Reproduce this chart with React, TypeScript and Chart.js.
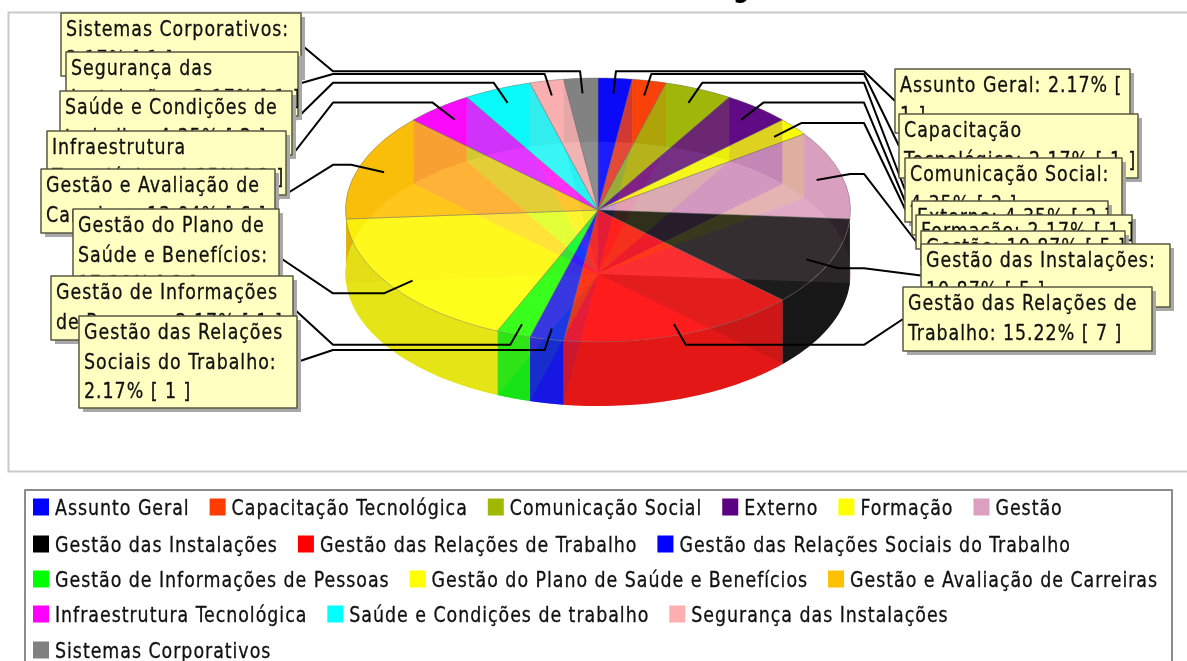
import React, { useEffect, useRef } from "react";
import { Chart, registerables } from "chart.js";

Chart.register(...registerables);

const categories = [
  "Assunto Geral", "Capacitação Tecnológica", "Comunicação Social", "Externo", "Formação", "Gestão",
  "Gestão das Instalações", "Gestão das Relações de Trabalho", "Gestão das Relações Sociais do Trabalho",
  "Gestão de Informações de Pessoas", "Gestão do Plano de Saúde e Benefícios", "Gestão e Avaliação de Carreiras",
  "Infraestrutura Tecnológica", "Saúde e Condições de trabalho", "Segurança das Instalações", "Sistemas Corporativos",
];
const counts = [1, 1, 2, 2, 1, 5, 5, 7, 1, 1, 8, 6, 2, 2, 1, 1];
const colors = ["#0000ff", "#ff3c00", "#a0b800", "#5c0084", "#ffff00", "#dd9fc0", "#000000", "#ff0000", "#0000ff", "#00ff00", "#ffff00", "#ffc000", "#ff00ff", "#00ffff", "#ffafaf", "#808080"];
const calloutLines = [
  ["Assunto Geral: 2.17% [", "1 ]"],
  ["Capacitação", "Tecnológica: 2.17% [ 1 ]"],
  ["Comunicação Social:", "4.35% [ 2 ]"],
  ["Externo: 4.35% [ 2 ]"],
  ["Formação: 2.17% [ 1 ]"],
  ["Gestão: 10.87% [ 5 ]"],
  ["Gestão das Instalações:", "10.87% [ 5 ]"],
  ["Gestão das Relações de", "Trabalho: 15.22% [ 7 ]"],
  ["Gestão das Relações", "Sociais do Trabalho:", "2.17% [ 1 ]"],
  ["Gestão de Informações", "de Pessoas: 2.17% [ 1 ]"],
  ["Gestão do Plano de", "Saúde e Benefícios:", "17.39% [ 8 ]"],
  ["Gestão e Avaliação de", "Carreiras: 13.04% [ 6 ]"],
  ["Infraestrutura", "Tecnológica: 4.35% [ 2 ]"],
  ["Saúde e Condições de", "trabalho: 4.35% [ 2 ]"],
  ["Segurança das", "Instalações: 2.17% [ 1 ]"],
  ["Sistemas Corporativos:", "2.17% [ 1 ]"],
];
// callout box: left, top, right, bottom
const calloutBoxes = [
  [895, 69, 1130, 133], [899, 114, 1138, 178], [905, 158, 1122, 222], [912, 201, 1108, 235],
  [916, 215, 1132, 249], [921, 231, 1125, 265], [921, 244, 1170, 307], [903, 287, 1152, 351],
  [79, 316, 297, 408], [51, 276, 293, 340], [73, 209, 279, 305], [41, 169, 275, 233],
  [47, 131, 286, 195], [60, 91, 292, 155], [66, 52, 298, 116], [61, 13, 301, 76],
];
// stacking of the callouts, bottom to top
const calloutOrder = [0, 1, 2, 3, 4, 5, 6, 7, 15, 14, 13, 12, 11, 10, 9, 8];
const legendRows = [[0, 1, 2, 3, 4, 5], [6, 7, 8], [9, 10, 11], [12, 13, 14], [15]];
const titleGlyph = "g";

const FONT = '"DejaVu Sans Condensed", "DejaVu Sans", sans-serif';
const CX = 598, TOP_CY = 210, RY = 132, DEPTH = 64;
const TEXT_SIZE = 22, TEXT_SX = 0.88, TEXT_LS = 1.1;

function darker(hex: string, f: number) {
  const n = parseInt(hex.slice(1), 16);
  return `rgb(${((n >> 16) & 255) * f},${((n >> 8) & 255) * f},${(n & 255) * f})`;
}

function setTextStyle(ctx: any) {
  ctx.font = `${TEXT_SIZE}px ${FONT}`;
  ctx.letterSpacing = `${TEXT_LS}px`;
}

function stretchedText(ctx: CanvasRenderingContext2D, text: string, x: number, y: number) {
  ctx.save();
  ctx.translate(x, y);
  ctx.scale(TEXT_SX, 1);
  setTextStyle(ctx);
  ctx.fillStyle = "#111";
  ctx.strokeStyle = "#111";
  ctx.lineWidth = 0.3;
  ctx.textBaseline = "alphabetic";
  ctx.textAlign = "left";
  ctx.fillText(text, 0, 0);
  ctx.strokeText(text, 0, 0);
  ctx.restore();
}

const pie3d = {
  id: "pie3d",
  beforeDraw(chart: any) {
    const ctx = chart.ctx as CanvasRenderingContext2D;
    ctx.save();
    ctx.fillStyle = "#fff";
    ctx.fillRect(0, 0, chart.width, chart.height);
    ctx.strokeStyle = "#c9c9c9";
    ctx.lineWidth = 2;
    ctx.beginPath();
    ctx.moveTo(1190, 12.5);
    ctx.lineTo(8.5, 12.5);
    ctx.lineTo(8.5, 471.5);
    ctx.lineTo(1190, 471.5);
    ctx.stroke();
    ctx.font = `bold 26px ${FONT}`;
    ctx.fillStyle = "#000";
    ctx.fillText(titleGlyph, 733, -3);
    ctx.restore();
  },
  beforeDatasetsDraw(chart: any) {
    const ctx = chart.ctx as CanvasRenderingContext2D;
    const arcs = chart.getDatasetMeta(0).data;
    const first = arcs[0];
    const R = first.outerRadius;
    const k = RY / R;
    const pt = (a: number, dy: number): [number, number] => [CX + R * Math.cos(a), TOP_CY + dy + RY * Math.sin(a)];
    ctx.save();
    // base of the pie
    ctx.globalAlpha = 0.5;
    arcs.forEach((arc: any, i: number) => {
      ctx.fillStyle = colors[i];
      ctx.save();
      ctx.translate(CX, TOP_CY + DEPTH);
      ctx.scale(1, k);
      ctx.beginPath();
      ctx.moveTo(0, 0);
      ctx.arc(0, 0, R, arc.startAngle, arc.endAngle);
      ctx.closePath();
      ctx.fill();
      ctx.restore();
    });
    // rim
    ctx.globalAlpha = 0.82;
    arcs.forEach((arc: any, i: number) => {
      ctx.fillStyle = darker(colors[i], 0.87);
      ctx.beginPath();
      const N = 40;
      for (let s = 0; s <= N; s++) {
        const [x, y] = pt(arc.startAngle + ((arc.endAngle - arc.startAngle) * s) / N, 0);
        if (s === 0) ctx.moveTo(x, y);
        else ctx.lineTo(x, y);
      }
      for (let s = N; s >= 0; s--) {
        const [x, y] = pt(arc.startAngle + ((arc.endAngle - arc.startAngle) * s) / N, DEPTH);
        ctx.lineTo(x, y);
      }
      ctx.closePath();
      ctx.fill();
    });
    ctx.restore();
  },
  beforeDatasetDraw(chart: any) {
    const ctx = chart.ctx as CanvasRenderingContext2D;
    const first = chart.getDatasetMeta(0).data[0];
    ctx.save();
    ctx.globalAlpha = 0.78;
    ctx.translate(CX, TOP_CY);
    ctx.scale(1, RY / first.outerRadius);
    ctx.translate(-first.x, -first.y);
  },
  afterDatasetDraw(chart: any) {
    chart.ctx.restore();
  },
  afterDatasetsDraw(chart: any) {
    const ctx = chart.ctx as CanvasRenderingContext2D;
    const arcs = chart.getDatasetMeta(0).data;
    ctx.save();
    // leader lines
    ctx.strokeStyle = "#000";
    ctx.lineWidth = 2;
    ctx.lineJoin = "round";
    arcs.forEach((arc: any, i: number) => {
      const m = (arc.startAngle + arc.endAngle) / 2;
      const c = Math.cos(m), s = Math.sin(m);
      const right = c >= 0;
      const box = calloutBoxes[i];
      ctx.beginPath();
      ctx.moveTo(CX + 227 * c, 212 + 119 * s);
      ctx.lineTo(CX + 262 * c, 212 + 141 * s);
      ctx.lineTo(right ? 864 : 333, 212 + 141 * s);
      ctx.lineTo(right ? box[0] : box[2], (box[1] + box[3]) / 2);
      ctx.stroke();
    });
    // callouts
    calloutOrder.forEach((i) => {
      const [l, t, r, b] = calloutBoxes[i];
      ctx.fillStyle = "#a8a8a8";
      ctx.fillRect(l + 4, t + 4, r - l, b - t);
      ctx.fillStyle = "#ffffc2";
      ctx.fillRect(l, t, r - l, b - t);
      ctx.strokeStyle = "#5a5a44";
      ctx.lineWidth = 1.5;
      ctx.strokeRect(l, t, r - l, b - t);
      ctx.save();
      ctx.beginPath();
      ctx.rect(l, t, r - l, b - t);
      ctx.clip();
      calloutLines[i].forEach((line, n) => {
        stretchedText(ctx, line, l + 5, t + 23 + n * 29.5);
      });
      ctx.restore();
    });
    // legend
    ctx.fillStyle = "#fff";
    ctx.fillRect(25, 490, 1147, 180);
    ctx.strokeStyle = "#8c8c8c";
    ctx.lineWidth = 2;
    ctx.strokeRect(25, 490, 1147, 200);
    const rowY = [507, 544, 579, 614, 650];
    legendRows.forEach((row, r) => {
      let x = 33;
      row.forEach((i) => {
        const label = chart.data.labels[i];
        ctx.fillStyle = colors[i];
        ctx.fillRect(x, rowY[r] - 8.5, 16, 17);
        stretchedText(ctx, label, x + 22, rowY[r] + 8);
        ctx.save();
        setTextStyle(ctx);
        x += 22 + ctx.measureText(label).width * TEXT_SX + 20;
        ctx.restore();
      });
    });
    ctx.restore();
  },
};

export default function App() {
  const ref = useRef<HTMLCanvasElement>(null);
  useEffect(() => {
    document.documentElement.style.overflow = "hidden";
    const chart = new Chart(ref.current!, {
      type: "pie",
      data: {
        labels: categories,
        datasets: [{
          data: counts,
          backgroundColor: colors,
          borderColor: "rgba(110,110,110,0.7)",
          borderWidth: 1,
          clip: false as any,
        }],
      },
      options: {
        animation: false,
        responsive: false,
        layout: { padding: { left: 345, right: 336, top: 0, bottom: 155 } },
        plugins: { legend: { display: false }, tooltip: { enabled: false }, title: { display: false } },
      },
      plugins: [pie3d],
    });
    return () => chart.destroy();
  }, []);
  return (
    <div style={{ position: "absolute", left: 0, top: 0, width: 1187, height: 661, overflow: "hidden" }}>
      <canvas ref={ref} width={1187} height={661} style={{ display: "block", filter: "blur(0.55px)" }} />
    </div>
  );
}
